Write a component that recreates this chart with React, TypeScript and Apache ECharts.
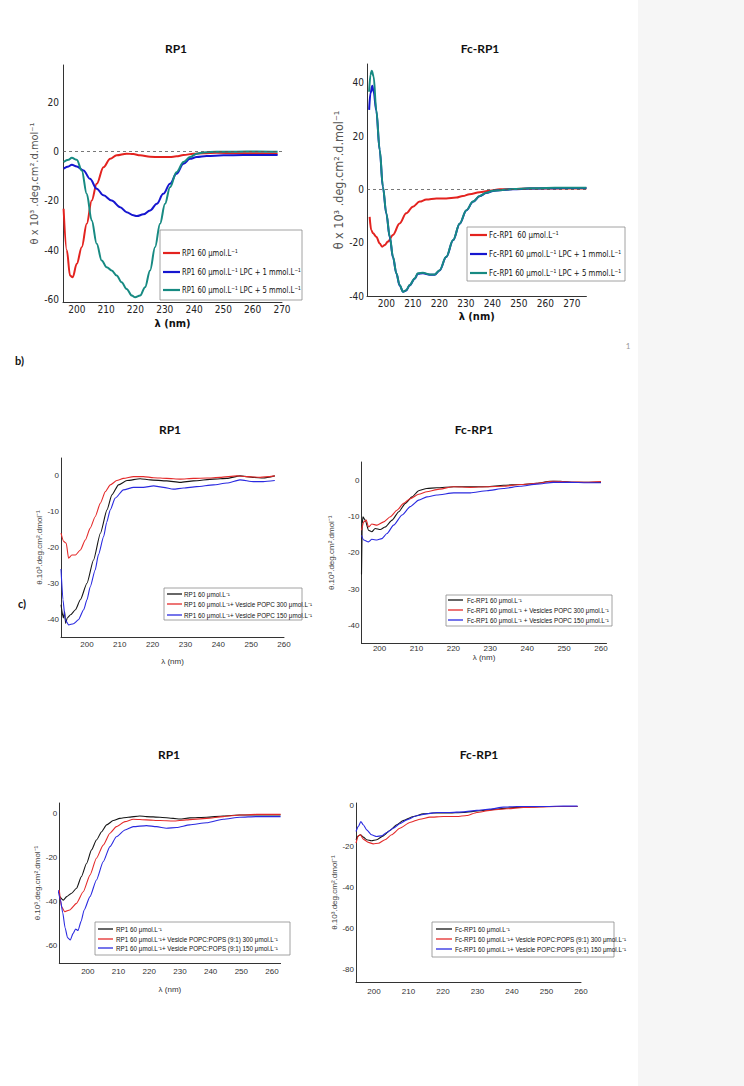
import React, { useEffect, useRef } from 'react';
import * as echarts from 'echarts';

// ---------- data: [wavelength nm, theta x10^3] ----------
// Panel a) left : RP1 with LPC
const aLeftRP1 = [[195.5,-23.2],[196.6,-40],[197.7,-50.3],[198.6,-51],[200,-45.5],[201.7,-38.8],[203.4,-29.3],[205.1,-19.9],[206.8,-13.1],[209.1,-6.4],[211.4,-3],[213.6,-1.6],[217,-0.9],[219.3,-1.1],[221.6,-1.6],[225,-2.2],[228.4,-2.3],[231.8,-2.3],[234,-2],[236.4,-1.5],[239.8,-0.9],[243.2,-0.7],[247.7,-0.5],[254.5,-0.7],[261.4,-0.7],[268.5,-0.9]];
const aLeftLPC1 = [[195.5,-7],[197.2,-6.1],[198.3,-5.4],[200,-6.1],[202.3,-7.7],[204.5,-11.1],[206.8,-15.1],[209.1,-17.8],[211.9,-19.9],[214.8,-22.6],[217,-24.6],[219.3,-25.9],[220.5,-26.2],[222.7,-25.5],[225,-23.9],[227.3,-21.2],[229.5,-17.2],[231.8,-13.1],[234,-9.1],[236.4,-5],[238.6,-3],[240.9,-2.3],[244.3,-1.9],[250,-1.6],[256.8,-1.5],[263.6,-1.5],[268.5,-1.5]];
const aLeftLPC5 = [[195.5,-4.3],[197.2,-3.4],[198.3,-2.6],[200,-3.4],[201.7,-7.7],[203.4,-17.2],[205.1,-28],[206.8,-37.4],[208.5,-44.2],[210.2,-46.9],[211.9,-48.2],[213.6,-50.3],[215.3,-53],[217,-55.7],[218.8,-58.4],[219.9,-59.1],[221.6,-58.4],[223.3,-55],[225,-48.2],[226.7,-38.8],[228.4,-29.3],[230.1,-21.2],[231.8,-14.5],[234,-8.4],[236.4,-4.3],[238.6,-2.3],[240.9,-0.9],[243.2,-0.4],[247.7,-0.1],[254.5,-0.1],[261.4,0],[268.5,-0.1]];

// Panel a) right : Fc-RP1 with LPC
const aRightFc = [[193.7,-10.3],[194.3,-15.3],[195,-16.5],[196.2,-17.8],[197.5,-20.3],[198.4,-21.5],[199.4,-20.9],[200.6,-19.6],[202.5,-17.1],[205,-12.8],[207.5,-9],[210,-6.5],[212.6,-4.6],[215.1,-3.8],[218.9,-3.4],[222.6,-3.4],[226.4,-3.1],[228.9,-2.5],[231.4,-1.8],[235.2,-1.1],[239,-0.5],[242.8,0],[247.8,0.1],[254.1,0.3],[260.4,0.3],[266.7,0.3],[275.5,0.3]];
const aRightLPC1 = [[193.5,29.8],[194,36],[194.7,38.8],[195.2,36.6],[196.2,29.5],[197.5,14.6],[198.7,0.8],[200,-9.2],[201.3,-18],[202.5,-25.5],[203.8,-31.6],[205,-36],[206.3,-38.4],[207.5,-37.9],[208.8,-36],[210.7,-33.5],[211.9,-31.7],[213.8,-31.5],[216.4,-32],[218.2,-32],[220.1,-30.4],[222.6,-25.4],[225.2,-19.1],[227.7,-12.9],[230.2,-7.9],[232.7,-4.7],[235.2,-2.6],[237.7,-1.4],[240.3,-0.6],[242.8,-0.3],[247.8,0],[254.1,0.3],[260.4,0.4],[266.7,0.5],[275.5,0.5]];
const aRightLPC5 = [[193.5,36.6],[194,42.9],[194.5,44.5],[195.2,42.3],[196.2,29.8],[197.5,14.8],[198.7,1],[200,-9],[201.3,-17.8],[202.5,-25.3],[203.8,-31.5],[205,-35.9],[206.3,-38.4],[207.5,-37.8],[208.8,-35.9],[210.7,-33.4],[211.9,-31.5],[213.8,-31.3],[216.4,-31.9],[218.2,-31.9],[220.1,-30.3],[222.6,-25.3],[225.2,-19],[227.7,-12.8],[230.2,-7.8],[232.7,-4.6],[235.2,-2.5],[237.7,-1.3],[240.3,-0.5],[242.8,-0.3],[247.8,0.1],[254.1,0.4],[260.4,0.5],[266.7,0.6],[275.5,0.6]];

// Panel b) left : RP1 with POPC vesicles
const bLeftRP1 = [[192.1,-36],[192.8,-39.7],[193.2,-37.9],[193.5,-41.2],[194,-39.7],[195,-38.8],[196.5,-37.4],[198,-34.6],[200,-30],[202,-23.5],[204.1,-16],[206.1,-9.5],[207.6,-5.3],[209.6,-2.5],[212.2,-1.3],[216.2,-0.8],[219.3,-1.1],[224.3,-1.4],[228.4,-1.8],[232.4,-1.4],[238.5,-0.9],[242.6,-0.7],[246.6,0],[250.7,-0.4],[253.7,-0.6],[257.2,0]];
const bLeftPOPC300 = [[192.1,-16],[192.9,-18.3],[193.7,-18.8],[194.4,-23],[195.4,-22.1],[196.5,-22.1],[198,-20.7],[199.5,-17.9],[201,-14.6],[202.5,-11.4],[204.1,-7.6],[205.6,-4.4],[207.1,-2.5],[209.1,-1.3],[211.1,-0.7],[214.2,-0.2],[217.2,-0.2],[220.3,-0.5],[224.3,-0.7],[228.4,-0.9],[232.4,-0.7],[236.5,-0.6],[240.5,-0.4],[245.6,0],[248.6,-0.2],[252.7,-0.4],[257.2,0]];
const bLeftPOPC150 = [[192.1,-26],[192.7,-34.6],[193.4,-40.2],[194.4,-41.6],[195.9,-41.3],[197.4,-40.2],[199,-37.4],[200,-34.6],[201,-31],[202.5,-26.3],[203.5,-22],[205.1,-16.9],[206,-13],[207.1,-9.5],[208.6,-6.2],[211.1,-3.9],[214.2,-3.2],[217.2,-3.2],[220.3,-2.8],[223.3,-3.2],[226.3,-3.7],[229.4,-3.4],[233.4,-3],[238.5,-2.5],[242.6,-2],[246.6,-1.1],[250.7,-1.6],[253.7,-1.6],[257.2,-1.3]];

// Panel b) right : Fc-RP1 with POPC vesicles
const bRightFc = [[195.1,-26],[195.3,-12],[195.5,-10.1],[196.1,-11],[197,-13.8],[197.9,-14.2],[198.8,-13.3],[200.2,-13.6],[201.5,-12.9],[203.4,-11],[205.2,-8.7],[207,-6.4],[208.8,-4.6],[210.6,-2.9],[212.8,-2.3],[215.5,-2.1],[220.1,-1.8],[224.6,-1.8],[229.1,-1.8],[233.6,-1.4],[238.1,-1.2],[242.6,-0.9],[246.2,-0.3],[249,-0.3],[252.6,-0.6],[256.2,-0.6],[260,-0.6]];
const bRightPOPC300 = [[195.1,-13.8],[195.7,-11.5],[196.4,-11],[197,-12.9],[197.9,-12.1],[199.3,-12.4],[201.1,-11.5],[202.9,-10.1],[204.7,-8.3],[206.5,-6.4],[208.3,-5.1],[210.6,-3.9],[212.8,-3.2],[215.5,-2.6],[220.1,-1.8],[224.6,-2],[229.1,-1.8],[233.6,-1.7],[238.1,-1.2],[242.6,-0.9],[247.1,-0.3],[251.6,-0.5],[256.2,-0.6],[260,-0.4]];
const bRightPOPC150 = [[195.1,-15.2],[195.7,-16.5],[197,-17],[197.9,-16.3],[199.3,-16.5],[200.6,-16.1],[202,-14.7],[203.8,-12.4],[206.1,-9.6],[208.3,-7.3],[210.6,-5.5],[212.8,-4.6],[215.5,-4.1],[220.1,-3.5],[224.6,-3.5],[229.1,-2.9],[233.6,-2.3],[238.1,-1.7],[242.6,-1.1],[247.1,-0.6],[251.6,-0.6],[256.2,-0.7],[260,-0.7]];

// Panel c) left : RP1 with POPC:POPS vesicles
const cLeftRP1 = [[190.9,-37.7],[192,-39.3],[193.1,-37.7],[194.7,-36.2],[196.3,-33.9],[197.9,-28.6],[199.6,-22.5],[201.2,-16.4],[202.8,-11.9],[204.5,-8.1],[206.1,-5],[208.3,-3],[210.4,-2],[213.1,-1.5],[216.9,-0.9],[219.1,-1.2],[223.5,-1.5],[227.8,-2],[230,-2.3],[233.2,-1.8],[238.7,-1.5],[244.1,-0.9],[249.5,-0.5],[254.9,-0.5],[262.8,-0.5]];
const cLeftPS300 = [[190.7,-34.7],[191.4,-42.3],[192.5,-44.6],[194.1,-43.8],[196.3,-40.8],[198.5,-35.5],[200.7,-27.9],[202.8,-20.2],[205,-14.2],[207.2,-8.8],[209.3,-5.8],[212.1,-3.5],[214.8,-2.4],[219.1,-2.7],[223.5,-3],[227.8,-3.2],[232.1,-2.7],[238.7,-2],[244.1,-1.2],[249.5,-0.5],[254.9,-0.2],[262.8,-0.2]];
const cLeftPS150 = [[190.3,-34.7],[191.1,-39.3],[191.8,-45],[192.6,-52],[193.4,-56.5],[194.3,-57.5],[195.2,-54.5],[196,-52.5],[196.8,-53.2],[197.8,-49],[198.8,-43.8],[200.7,-37.7],[202.8,-30.1],[205,-21.8],[207.2,-14.9],[209.3,-10.4],[212.1,-7.3],[214.8,-5.8],[219.1,-5.3],[222.4,-5.8],[225.6,-6.5],[228.9,-6.2],[233.2,-5],[238.7,-4],[244.1,-2.4],[249.5,-1.5],[254.9,-1.2],[262.8,-1.2]];

// Panel c) right : Fc-RP1 with POPC:POPS vesicles
const cRightFc = [[194.8,-16.7],[195.5,-14.8],[196.1,-14.3],[196.9,-15.4],[197.9,-16.7],[199.3,-17.2],[200.8,-16.7],[202.7,-14.8],[204.6,-12.2],[206.6,-9.4],[208.5,-7.3],[211.4,-5.4],[214.3,-4.1],[217.2,-3.7],[221.1,-3.7],[225.9,-3.4],[230.7,-2.6],[235.6,-1.8],[240.4,-1],[245.2,-0.7],[250,-0.5],[254.9,-0.5],[259,-0.5]];
const cRightPS300 = [[194.8,-18.4],[195.5,-14.8],[196.1,-14.3],[196.9,-16.4],[198.4,-18],[199.8,-18.7],[201.3,-18.4],[203.2,-16.7],[205.1,-14.3],[207.5,-11.1],[210.4,-8.3],[213.3,-6.7],[216.2,-5.7],[220.1,-5.4],[224,-5.4],[226.9,-4.9],[229.8,-3.4],[233.6,-2.4],[238.5,-1.6],[243.3,-1],[248.1,-0.7],[253,-0.5],[259,-0.5]];
const cRightPS150 = [[194.8,-12.7],[195.5,-10.2],[196.2,-7.8],[196.9,-9.4],[197.9,-11.9],[199.3,-14.3],[200.8,-15.1],[202.2,-14.8],[203.7,-13.2],[205.6,-11.1],[207.5,-8.9],[209.5,-7],[212.4,-5],[215.3,-4.1],[218.2,-3.4],[222,-3.4],[225.9,-3.1],[229.8,-2.4],[233.6,-1.8],[237.5,-0.8],[241.4,-0.5],[245.2,-0.5],[250,-0.5],[254.9,-0.3],[259,-0.3]];

// ---------- texts ----------
const titlesLeft = 'RP1';
const titlesRight = 'Fc-RP1';
const xName = 'λ (nm)';
const yNameA = 'θ x 10³ .deg.cm².d.mol⁻¹';
const yNameBC = 'θ.10³.deg.cm².dmol⁻¹';
const legA1 = ['RP1 60 μmol.L⁻¹', 'RP1 60 μmol.L⁻¹ LPC + 1 mmol.L⁻¹', 'RP1 60 μmol.L⁻¹ LPC + 5 mmol.L⁻¹'];
const legA2 = ['Fc-RP1  60 μmol.L⁻¹', 'Fc-RP1 60 μmol.L⁻¹ LPC + 1 mmol.L⁻¹', 'Fc-RP1 60 μmol.L⁻¹ LPC + 5 mmol.L⁻¹'];
const legB1 = ['RP1 60 μmol.L⁻¹', 'RP1 60 μmol.L⁻¹+ Vesicle POPC 300 μmol.L⁻¹', 'RP1 60 μmol.L⁻¹+ Vesicle POPC 150 μmol.L⁻¹'];
const legB2 = ['Fc-RP1 60 μmol.L⁻¹', 'Fc-RP1 60 μmol.L⁻¹ + Vesicles POPC 300 μmol.L⁻¹', 'Fc-RP1 60 μmol.L⁻¹ + Vesicles POPC 150 μmol.L⁻¹'];
const legC1 = ['RP1 60 μmol.L⁻¹', 'RP1 60 μmol.L⁻¹+ Vesicle POPC:POPS (9:1) 300 μmol.L⁻¹', 'RP1 60 μmol.L⁻¹+ Vesicle POPC:POPS (9:1) 150 μmol.L⁻¹'];
const legC2 = ['Fc-RP1 60 μmol.L⁻¹', 'Fc-RP1 60 μmol.L⁻¹+ Vesicle POPC:POPS (9:1) 300 μmol.L⁻¹', 'Fc-RP1 60 μmol.L⁻¹+ Vesicle POPC:POPS (9:1) 150 μmol.L⁻¹'];

const RED_A = '#e3231f', BLUE_A = '#1616cf', TEAL_A = '#178a82';
const BLACK = '#151515', RED = '#e42a2a', BLUE = '#2a2ae0';

const NARROW = "'Liberation Sans Narrow','DejaVu Sans Condensed','Arial Narrow','Liberation Sans',sans-serif";
const ARIAL = "'Liberation Sans',Arial,sans-serif";
const TITLE = "Lato,'Open Sans',sans-serif";

const mult = (step: number) => (v: number) =>
  Math.abs(v - Math.round(v / step) * step) < 1e-6 ? String(Math.round(v)) : '';

type P = {
  left: number; top: number; width: number; height: number;
  xmin: number; xmax: number; ymin: number; ymax: number; ystep: number;
  font: string; fs: number; xMargin: number; yMargin: number; color: string;
  xName?: string; xNameGap?: number; xNameFont?: any;
  yName: string; yNameGap: number; yNameFont: any;
};

const panels: P[] = [
  { left: 63, top: 65, width: 219, height: 237, xmin: 195.3, xmax: 270, ymin: -61, ymax: 35, ystep: 20,
    font: NARROW, fs: 10, xMargin: 2, yMargin: 4, color: '#222',
    xName, xNameGap: 16, xNameFont: { fontFamily: NARROW, fontSize: 11, fontWeight: 'bold', color: '#111' },
    yName: yNameA, yNameGap: 18, yNameFont: { fontFamily: NARROW, fontSize: 11, color: '#555' } },
  { left: 367, top: 64, width: 219.4, height: 232, xmin: 192.7, xmax: 275.5, ymin: -40, ymax: 47, ystep: 20,
    font: NARROW, fs: 10, xMargin: 2, yMargin: 3, color: '#222',
    xName, xNameGap: 15, xNameFont: { fontFamily: NARROW, fontSize: 11, fontWeight: 'bold', color: '#111' },
    yName: yNameA, yNameGap: 6, yNameFont: { fontFamily: NARROW, fontSize: 12.5, color: '#555' } },
  { left: 61, top: 458, width: 223, height: 179, xmin: 192.1, xmax: 260, ymin: -45, ymax: 5, ystep: 10,
    font: ARIAL, fs: 8, xMargin: 3, yMargin: 2, color: '#333',
    xName, xNameGap: 20, xNameFont: { fontFamily: ARIAL, fontSize: 8, color: '#333' },
    yName: yNameBC, yNameGap: 13, yNameFont: { fontFamily: ARIAL, fontSize: 8, color: '#444' } },
  { left: 361.5, top: 462, width: 245, height: 181.5, xmin: 195.1, xmax: 261.5, ymin: -45, ymax: 5, ystep: 10,
    font: ARIAL, fs: 8, xMargin: 1, yMargin: 2, color: '#333',
    xName, xNameGap: 6, xNameFont: { fontFamily: ARIAL, fontSize: 8, color: '#333' },
    yName: yNameBC, yNameGap: 26, yNameFont: { fontFamily: ARIAL, fontSize: 8, color: '#444' } },
  { left: 59.3, top: 803, width: 221.3, height: 160, xmin: 190.7, xmax: 262.8, ymin: -68, ymax: 5, ystep: 20,
    font: ARIAL, fs: 8, xMargin: 4, yMargin: 2, color: '#333',
    xName, xNameGap: 22, xNameFont: { fontFamily: ARIAL, fontSize: 8, color: '#333' },
    yName: yNameBC, yNameGap: 11, yNameFont: { fontFamily: ARIAL, fontSize: 8, color: '#444' } },
  { left: 356, top: 803, width: 225, height: 179, xmin: 194.8, xmax: 260, ymin: -86, ymax: 1.2, ystep: 20,
    font: ARIAL, fs: 8, xMargin: 5, yMargin: 2, color: '#333',
    yName: yNameBC, yNameGap: 11, yNameFont: { fontFamily: ARIAL, fontSize: 8, color: '#444' } },
];

const seriesDefs: { name: string; data: number[][]; color: string; panel: number }[] = [
  { name: legA1[0], data: aLeftRP1, color: RED_A, panel: 0 },
  { name: legA1[1], data: aLeftLPC1, color: BLUE_A, panel: 0 },
  { name: legA1[2], data: aLeftLPC5, color: TEAL_A, panel: 0 },
  { name: legA2[0], data: aRightFc, color: RED_A, panel: 1 },
  { name: legA2[1], data: aRightLPC1, color: BLUE_A, panel: 1 },
  { name: legA2[2], data: aRightLPC5, color: TEAL_A, panel: 1 },
  { name: legB1[0], data: bLeftRP1, color: BLACK, panel: 2 },
  { name: legB1[1], data: bLeftPOPC300, color: RED, panel: 2 },
  { name: legB1[2], data: bLeftPOPC150, color: BLUE, panel: 2 },
  { name: legB2[0], data: bRightFc, color: BLACK, panel: 3 },
  { name: legB2[1], data: bRightPOPC300, color: RED, panel: 3 },
  { name: legB2[2], data: bRightPOPC150, color: BLUE, panel: 3 },
  { name: legC1[0], data: cLeftRP1, color: BLACK, panel: 4 },
  { name: legC1[1], data: cLeftPS300, color: RED, panel: 4 },
  { name: legC1[2], data: cLeftPS150, color: BLUE, panel: 4 },
  { name: legC2[0], data: cRightFc, color: BLACK, panel: 5 },
  { name: legC2[1], data: cRightPS300, color: RED, panel: 5 },
  { name: legC2[2], data: cRightPS150, color: BLUE, panel: 5 },
];

function legend(box: number[], lx: number[], tx: number, rowsY: number[], texts: string[], colors: string[], fs: number, font: string, lw: number, sx = 1) {
  const children: any[] = [
    { type: 'rect', z: 100, shape: { x: box[0], y: box[1], width: box[2], height: box[3] },
      style: { fill: '#fff', stroke: '#8a8a8a', lineWidth: 0.8 } },
  ];
  rowsY.forEach((y, i) => {
    children.push({ type: 'line', z: 101, shape: { x1: lx[0], y1: y, x2: lx[1], y2: y }, style: { stroke: colors[i], lineWidth: lw } });
    children.push({ type: 'text', z: 101, x: tx, y, scaleX: sx, style: { text: texts[i], fontSize: fs, fontFamily: font, fill: '#111', align: 'left', verticalAlign: 'middle' } });
  });
  return { type: 'group', children };
}

function text(x: number, y: number, t: string, fs: number, font: string, weight = 'normal', fill = '#111', align = 'center') {
  return { type: 'text', z: 100, x, y, style: { text: t, fontSize: fs, fontFamily: font, fontWeight: weight, fill, align, verticalAlign: 'middle' } };
}

function buildOption() {
  const grid = panels.map((p) => ({ left: p.left, top: p.top, width: p.width, height: p.height, containLabel: false }));
  const xAxis = panels.map((p, i) => ({
    type: 'value', gridIndex: i, min: p.xmin, max: p.xmax, minInterval: 10, maxInterval: 10,
    axisLine: { show: true, onZero: false, lineStyle: { color: '#333', width: 1 } },
    axisTick: { show: false }, splitLine: { show: false },
    axisLabel: { formatter: mult(10), fontSize: p.fs, fontFamily: p.font, color: p.color, margin: p.xMargin },
    name: p.xName || '', nameLocation: 'middle', nameGap: p.xNameGap || 0, nameTextStyle: p.xNameFont || {},
  }));
  const yAxis = panels.map((p, i) => ({
    type: 'value', gridIndex: i, min: p.ymin, max: p.ymax, minInterval: p.ystep, maxInterval: p.ystep,
    axisLine: { show: true, onZero: false, lineStyle: { color: '#333', width: 1 } },
    axisTick: { show: false }, splitLine: { show: false },
    axisLabel: { formatter: mult(p.ystep), fontSize: p.fs, fontFamily: p.font, color: p.color, margin: p.yMargin },
    name: p.yName, nameLocation: 'middle', nameRotate: 90, nameGap: p.yNameGap, nameTextStyle: p.yNameFont,
  }));
  const series: any[] = seriesDefs.map((s) => {
    const a = s.panel < 2;
    return {
      type: 'line', name: s.name, xAxisIndex: s.panel, yAxisIndex: s.panel, data: s.data,
      showSymbol: false, symbol: 'none', smooth: a ? 0.35 : 0.2, smoothMonotone: 'x',
      lineStyle: { color: s.color, width: a ? 2 : 1.1 }, itemStyle: { color: s.color },
    };
  });
  // dashed zero reference lines in panel a
  [0, 3].forEach((k) => {
    series[k].markLine = {
      silent: true, symbol: ['none', 'none'], label: { show: false },
      lineStyle: { type: [3, 3], color: '#555', width: 0.8 }, data: [{ yAxis: 0 }],
    };
  });

  const graphic: any[] = [
    { type: 'rect', z: 0, shape: { x: 638, y: 0, width: 106, height: 1086 }, style: { fill: '#f6f6f6' } },
    text(176, 48, titlesLeft, 12, TITLE, 'bold'),
    text(480, 48, titlesRight, 12, TITLE, 'bold'),
    text(628, 346, '1', 8, TITLE, 'normal', '#999'),
    text(15, 360, 'b)', 11, TITLE, 'bold', '#111', 'left'),
    text(18, 603, 'c)', 11, TITLE, 'bold', '#111', 'left'),
    text(170, 429, titlesLeft, 12, TITLE, 'bold'),
    text(474, 429, titlesRight, 12, TITLE, 'bold'),
    text(169, 754, titlesLeft, 12, TITLE, 'bold'),
    text(479, 754, titlesRight, 12, TITLE, 'bold'),
    legend([160, 230, 142, 70], [163, 180], 182, [253, 272, 290], legA1, [RED_A, BLUE_A, TEAL_A], 9.5, NARROW, 2.2, 0.8),
    legend([467, 227, 158, 54], [470, 487], 489, [235, 254, 273], legA2, [RED_A, BLUE_A, TEAL_A], 9.5, NARROW, 2.2, 0.82),
    legend([164, 588, 138, 32], [167, 182], 184, [594, 604, 615], legB1, [BLACK, RED, BLUE], 6.3, ARIAL, 1.3),
    legend([446, 595, 166, 31], [448, 463], 467, [600, 610, 620], legB2, [BLACK, RED, BLUE], 6.3, ARIAL, 1.3),
    legend([95, 922, 195, 33], [98, 113], 116, [929, 939, 948], legC1, [BLACK, RED, BLUE], 6.3, ARIAL, 1.3),
    legend([432, 922, 182, 35], [436, 452], 455, [929, 939, 949], legC2, [BLACK, RED, BLUE], 6.3, ARIAL, 1.3),
  ];

  return {
    animation: false,
    backgroundColor: '#ffffff',
    grid, xAxis, yAxis, series, graphic,
  };
}

export default function App() {
  const ref = useRef<HTMLDivElement>(null);
  useEffect(() => {
    if (!ref.current) return;
    const chart = echarts.init(ref.current, null, { renderer: 'svg', width: 744, height: 1086 });
    chart.setOption(buildOption() as any);
    return () => chart.dispose();
  }, []);
  return <div ref={ref} style={{ position: 'absolute', left: 0, top: 0, width: 744, height: 1086 }} />;
}
